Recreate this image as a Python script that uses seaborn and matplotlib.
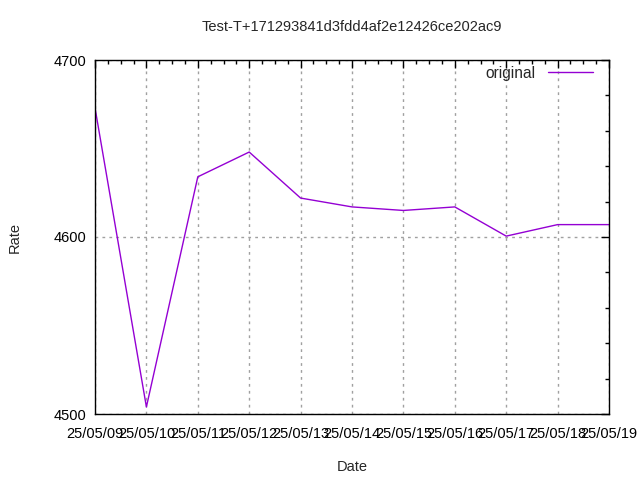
import pandas as pd
import seaborn as sns
import matplotlib.pyplot as plt
import matplotlib.dates as mdates
from matplotlib.ticker import MultipleLocator, AutoMinorLocator

# data
dates = pd.date_range('2025-05-09', '2025-05-19', freq='D')
rates = [4673, 4504, 4634, 4648, 4622, 4617, 4615, 4617, 4600.5, 4607, 4607]

df = pd.DataFrame({'Date': dates, 'Rate': rates})

sns.set_style('white')
plt.rcParams['font.family'] = ['Liberation Sans', 'DejaVu Sans']

fig = plt.figure(figsize=(6.4, 4.8), dpi=100)
ax = fig.add_axes([95 / 640, 1 - 414 / 480, (609 - 95) / 640, (414 - 60) / 480])

sns.lineplot(data=df, x='Date', y='Rate', ax=ax, color='#9400D3',
             linewidth=1, label='original')

ax.set_xlim(dates[0], dates[-1])
ax.set_ylim(4500, 4700)
ax.yaxis.set_major_locator(MultipleLocator(100))
ax.yaxis.set_minor_locator(MultipleLocator(20))
ax.xaxis.set_major_locator(mdates.DayLocator())
ax.xaxis.set_minor_locator(AutoMinorLocator(4))
ax.xaxis.set_major_formatter(mdates.DateFormatter('%y/%m/%d'))

ax.grid(True, which='major', color='#a0a0a0', linestyle=(0, (2, 3)), linewidth=1)
ax.tick_params(which='both', direction='in', top=True, right=True,
               labelsize=10.5, colors='black', width=1)
ax.tick_params(which='major', length=6, pad=6)
ax.tick_params(axis='x', which='major', pad=9)
ax.tick_params(which='minor', length=3)
for s in ax.spines.values():
    s.set_color('black')
    s.set_linewidth(1)

ax.set_title('Test-T+171293841d3fdd4af2e12426ce202ac9', fontsize=10.5, pad=21)
ax.set_xlabel('Date', fontsize=10.5, labelpad=14)
ax.set_ylabel('Rate', fontsize=10.5, labelpad=23)

ax.legend(loc='upper right', frameon=False, markerfirst=False,
          fontsize=11.2, handlelength=2.9, borderaxespad=0.3,
          bbox_to_anchor=(0.99, 1.015))

fig.savefig('out.png', dpi=100)
